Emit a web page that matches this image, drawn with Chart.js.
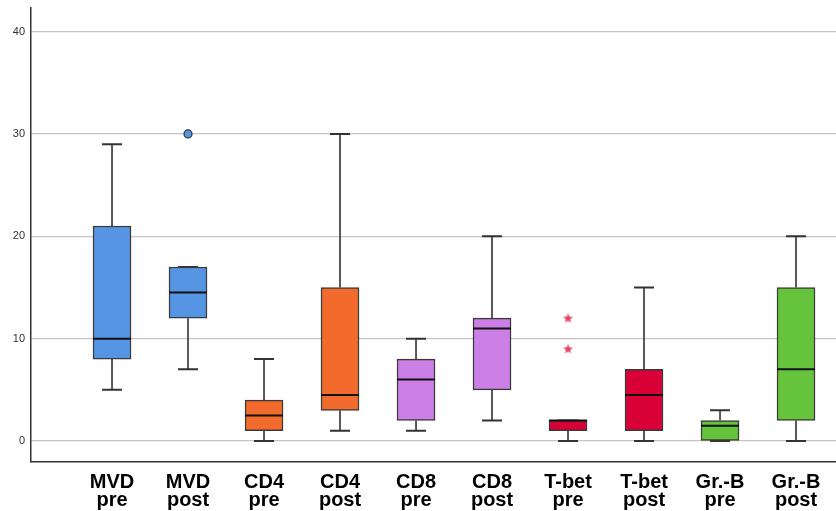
<!DOCTYPE html>
<html><head><meta charset="utf-8">
<script src="https://cdn.jsdelivr.net/npm/chart.js@4.4.0/dist/chart.umd.min.js"></script>
<style>html,body{margin:0;padding:0;background:#fff;overflow:hidden}canvas{display:block}</style>
</head><body><canvas id="c" width="836" height="511" style="width:836px;height:511px"></canvas>
<script>
const categories = ['MVD pre','MVD post','CD4 pre','CD4 post','CD8 pre','CD8 post','T-bet pre','T-bet post','Gr.-B pre','Gr.-B post'];
const mins    = [5, 7, 0, 1, 1, 2, 0, 0, 0, 0];
const q1s     = [8, 12, 1, 3, 2, 5, 1, 1, 0, 2];
const medians = [10, 14.5, 2.5, 4.5, 6, 11, 2, 4.5, 1.5, 7];
const q3s     = [21, 17, 4, 15, 8, 12, 2, 7, 2, 15];
const maxs    = [29, 17, 8, 30, 10, 20, 2, 15, 3, 20];
const outlierCats   = [1];
const outlierValues = [30];
const extremeCats   = [6, 6];
const extremeValues = [12, 9];
const yTicks = [0, 10, 20, 30, 40];

const boxColors = ['#5595e3','#5595e3','#f26a2c','#f26a2c','#cc80e5','#cc80e5','#d80036','#d80036','#66c43c','#66c43c'];

// star image for extreme outliers
const star = document.createElement('canvas');
star.width = 11; star.height = 11;
(function(){
  const g = star.getContext('2d');
  g.fillStyle = '#e8405e';
  g.beginPath();
  for (let k = 0; k < 10; k++) {
    const r = k % 2 === 0 ? 5.2 : 2.2;
    const a = -Math.PI/2 + k*Math.PI/5;
    const px = 5.5 + r*Math.cos(a), py = 5.8 + r*Math.sin(a);
    k === 0 ? g.moveTo(px,py) : g.lineTo(px,py);
  }
  g.closePath(); g.fill();
})();

const boxParts = {
  id: 'boxParts',
  beforeDatasetsDraw(chart) {
    const {ctx, scales:{x, y}} = chart;
    ctx.save();
    ctx.strokeStyle = '#333';
    categories.forEach((_, i) => {
      const px = x.getPixelForValue(i);
      ctx.lineWidth = 1.6;
      ctx.beginPath();
      ctx.moveTo(px, y.getPixelForValue(q3s[i])); ctx.lineTo(px, y.getPixelForValue(maxs[i]));
      ctx.moveTo(px, y.getPixelForValue(q1s[i])); ctx.lineTo(px, y.getPixelForValue(mins[i]));
      ctx.stroke();
      ctx.lineWidth = 2;
      ctx.beginPath();
      const yMax = y.getPixelForValue(maxs[i]), yMin = y.getPixelForValue(mins[i]);
      ctx.moveTo(px-10, yMax); ctx.lineTo(px+10, yMax);
      ctx.moveTo(px-10, yMin); ctx.lineTo(px+10, yMin);
      ctx.stroke();
    });
    ctx.restore();
  },
  afterDatasetsDraw(chart) {
    const {ctx, scales:{x, y}} = chart;
    ctx.save();
    ctx.strokeStyle = '#111';
    ctx.lineWidth = 2;
    categories.forEach((_, i) => {
      const px = x.getPixelForValue(i);
      const py = y.getPixelForValue(medians[i]);
      ctx.beginPath();
      ctx.moveTo(px-19, py); ctx.lineTo(px+19, py);
      ctx.stroke();
    });
    ctx.restore();
  }
};

new Chart(document.getElementById('c'), {
  type: 'bar',
  data: {
    datasets: [
      {
        type: 'bar',
        data: categories.map((_, i) => ({x: i, y: [q1s[i], q3s[i]]})),
        backgroundColor: boxColors,
        borderColor: '#3a3a3a',
        borderWidth: 1.5,
        borderSkipped: false,
        barThickness: 38,
        grouped: false,
        order: 2
      },
      {
        type: 'scatter',
        data: outlierCats.map((c, i) => ({x: c, y: outlierValues[i]})),
        backgroundColor: '#5595e3',
        borderColor: '#333',
        borderWidth: 1.2,
        pointRadius: 4,
        order: 1
      },
      {
        type: 'scatter',
        data: extremeCats.map((c, i) => ({x: c, y: extremeValues[i]})),
        pointStyle: star,
        order: 1
      }
    ]
  },
  options: {
    responsive: false,
    animation: false,
    layout: {autoPadding: false, padding: {top: 8, right: 0, left: 0, bottom: 0}},
    plugins: {legend: {display: false}, tooltip: {enabled: false}},
    scales: {
      x: {
        type: 'linear',
        position: 'bottom',
        offset: false,
        min: -1.066,
        max: 9.526,
        afterBuildTicks: s => { s.ticks = categories.map((_, i) => ({value: i})); },
        afterFit: s => { s.height = 49; s.paddingLeft = 0; s.paddingRight = 0; },
        grid: {display: false, offset: false},
        border: {display: true, color: '#333', width: 1.5},
        ticks: {
          autoSkip: false, maxRotation: 0, minRotation: 0,
          padding: 4,
          color: '#000',
          font: {family: "'Liberation Sans', Arial, sans-serif", size: 20, weight: 'bold', lineHeight: 0.87},
          callback: v => categories[v] ? categories[v].split(' ') : ''
        }
      },
      y: {
        min: -2.05,
        max: 42.3,
        afterBuildTicks: s => { s.ticks = yTicks.map(v => ({value: v})); },
        afterFit: s => { s.width = 31; s.paddingTop = 0; s.paddingBottom = 0; },
        grid: {color: '#c4c4c4', lineWidth: 1.3, drawTicks: false},
        border: {display: true, color: '#333', width: 1.5},
        ticks: {
          padding: 6,
          color: '#333',
          font: {family: "'Liberation Sans', Arial, sans-serif", size: 11}
        }
      }
    }
  },
  plugins: [boxParts]
});
</script>
</body></html>
